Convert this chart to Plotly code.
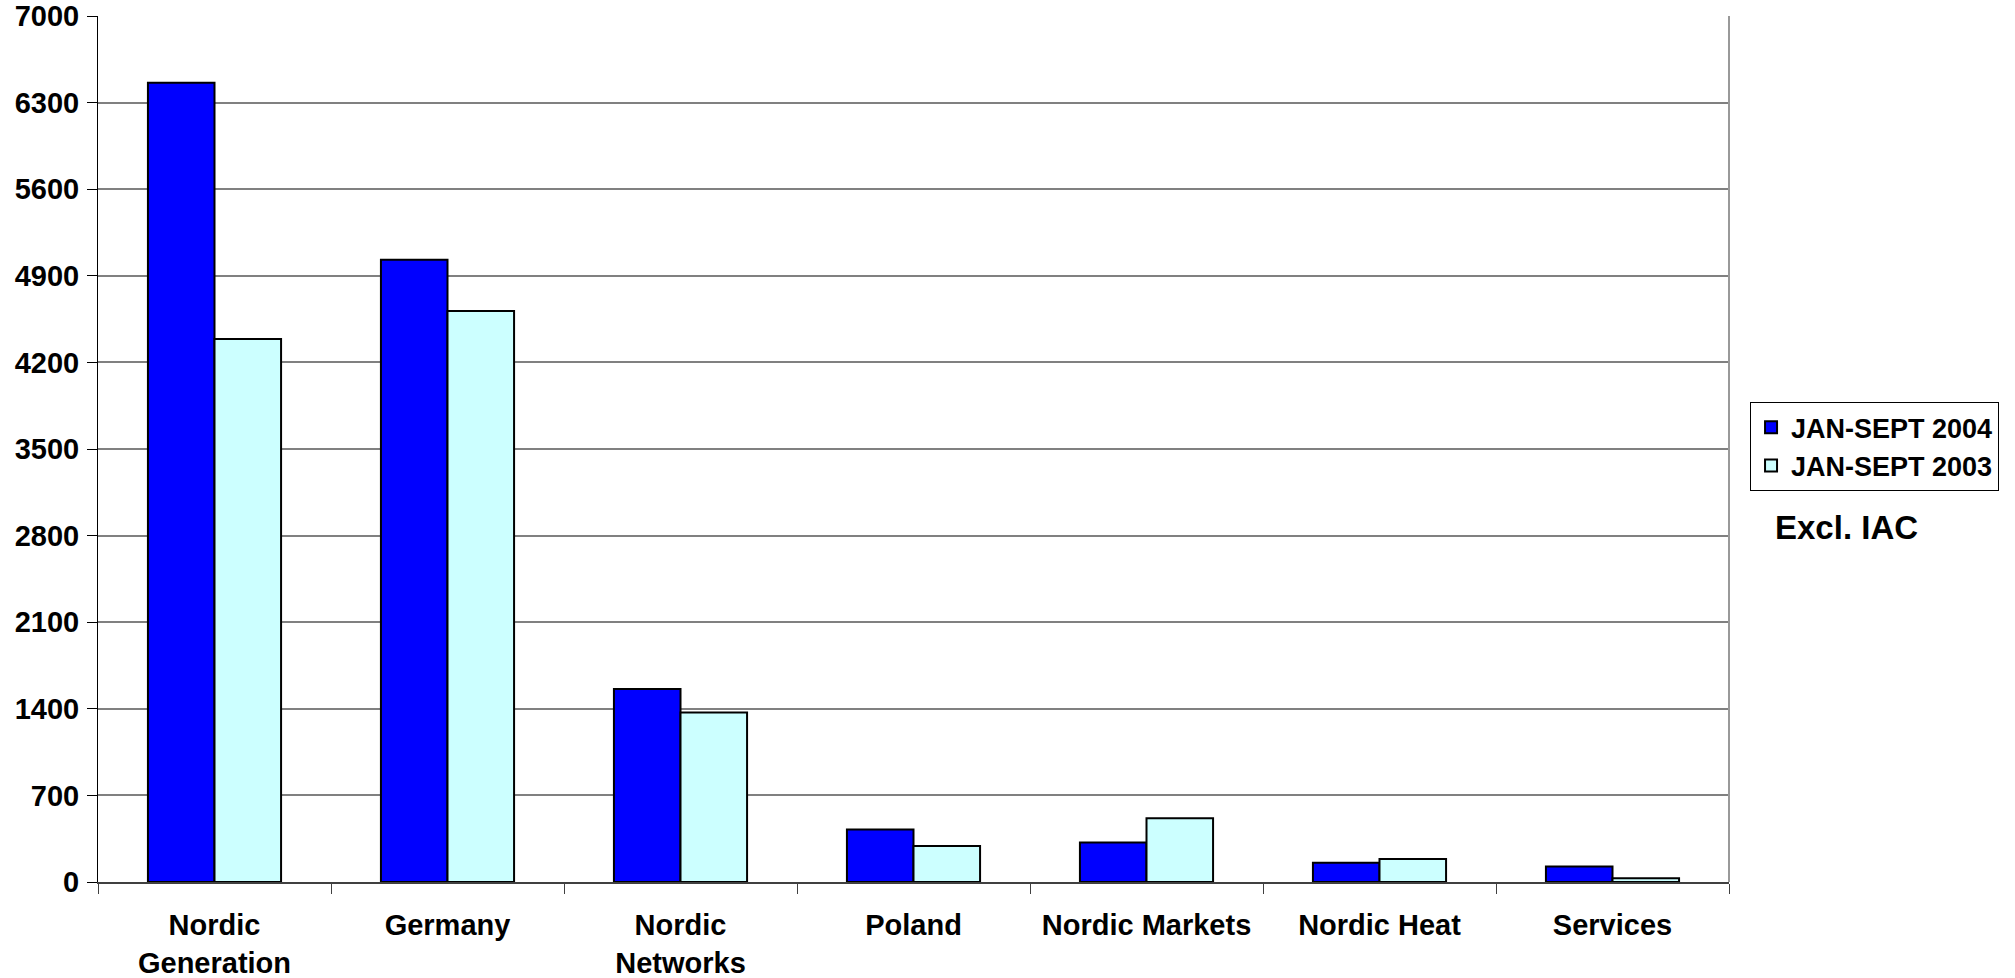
import plotly.graph_objects as go

# Category labels and series values
categories = ["Nordic<br>Generation", "Germany", "Nordic<br>Networks", "Poland",
              "Nordic Markets", "Nordic Heat", "Services"]
values_2004 = [6460, 5030, 1560, 425, 320, 155, 125]
values_2003 = [4390, 4615, 1370, 290, 515, 185, 30]
series_names = ["JAN-SEPT 2004", "JAN-SEPT 2003"]
y_ticks = [0, 700, 1400, 2100, 2800, 3500, 4200, 4900, 5600, 6300, 7000]
note_text = "Excl. IAC"

FONT = "Arial, Liberation Sans, sans-serif"

fig = go.Figure()
fig.add_trace(go.Bar(
    x=categories, y=values_2004, name=series_names[0],
    marker=dict(color="#0000FF", line=dict(color="#000000", width=2)),
))
fig.add_trace(go.Bar(
    x=categories, y=values_2003, name=series_names[1],
    marker=dict(color="#CCFFFF", line=dict(color="#000000", width=2)),
))

fig.update_layout(
    width=2015, height=978,
    margin=dict(l=98, r=286, t=16, b=96),
    paper_bgcolor="white", plot_bgcolor="white",
    barmode="group", bargap=3 / 7, bargroupgap=0,
    font=dict(family=FONT, color="#000000"),
    showlegend=True,
    legend=dict(
        x=1.0129, y=0.554, xanchor="left", yanchor="top",
        bgcolor="white", bordercolor="#000000", borderwidth=1,
        font=dict(family=FONT, size=27, weight="bold"),
        traceorder="normal", itemwidth=30,
    ),
)

fig.update_xaxes(
    type="category", tickson="boundaries", automargin=False,
    ticks="outside", ticklen=10, tickcolor="#404040", tickwidth=1,
    showline=True, linecolor="#404040", linewidth=2,
    showgrid=False, ticklabelstandoff=16,
    tickfont=dict(family=FONT, size=29, weight="bold"),
)
fig.update_yaxes(
    range=[0, 7000], tickvals=y_ticks, ticktext=[str(v) for v in y_ticks],
    automargin=False,
    ticks="outside", ticklen=10, tickcolor="#000000", tickwidth=1,
    showline=True, linecolor="#000000", linewidth=1,
    showgrid=True, gridcolor="#808080", gridwidth=1.5,
    zeroline=False, ticklabelstandoff=2,
    tickfont=dict(family=FONT, size=29, weight="bold"),
)

# Plot-area right border
fig.add_shape(type="line", xref="paper", yref="paper", x0=1, x1=1, y0=0, y1=1,
              line=dict(color="#999999", width=2))

fig.add_annotation(
    text=note_text, xref="paper", yref="paper", x=1.027, y=0.409,
    xanchor="left", yanchor="middle", showarrow=False,
    font=dict(family=FONT, size=33, weight="bold"),
)

fig.write_html("out.html")
